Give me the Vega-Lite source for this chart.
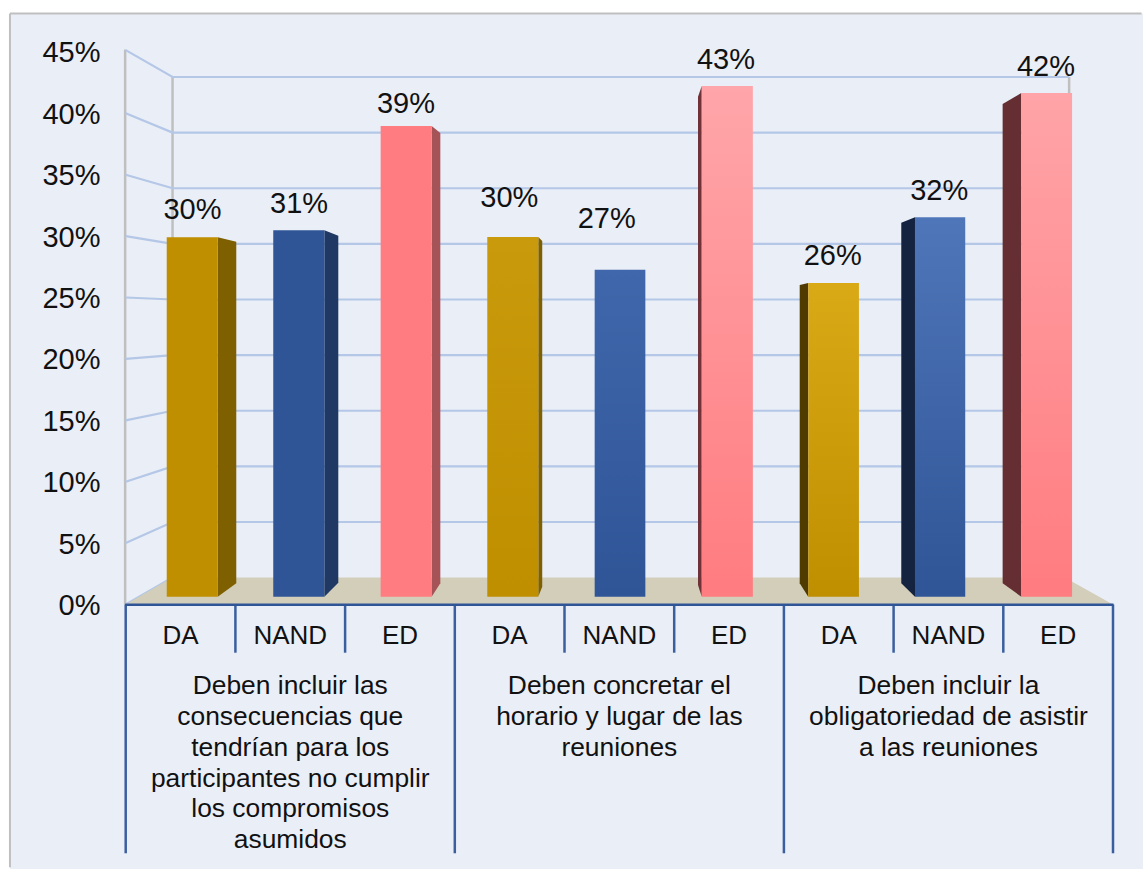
{
"$schema":"https://vega.github.io/schema/vega-lite/v6.json",
"width":1143,"height":869,"padding":0,
"autosize":{"type":"fit","contains":"padding"},
"background":"#ffffff",
"view":{"stroke":null},
"datasets":{
"bars":[
{"id":"g1-DA","opcion":"DA","etiqueta":"30%","u":0.374,"u2":0.839,"v":29.9,"base":0.635,"lu":0.609,"lv":32.2},
{"id":"g1-NAND","opcion":"NAND","etiqueta":"31%","u":1.345,"u2":1.811,"v":30.47,"base":0.635,"lu":1.58,"lv":32.7},
{"id":"g1-ED","opcion":"ED","etiqueta":"39%","u":2.324,"u2":2.789,"v":38.97,"base":0.635,"lu":2.555,"lv":40.84},
{"id":"g2-DA","opcion":"DA","etiqueta":"30%","u":3.296,"u2":3.761,"v":29.93,"base":0.635,"lu":3.497,"lv":33.18},
{"id":"g2-NAND","opcion":"NAND","etiqueta":"27%","u":4.275,"u2":4.737,"v":27.26,"base":0.635,"lu":4.385,"lv":31.47},
{"id":"g2-ED","opcion":"ED","etiqueta":"43%","u":5.251,"u2":5.717,"v":42.22,"base":0.635,"lu":5.472,"lv":44.42},
{"id":"g3-DA","opcion":"DA","etiqueta":"26%","u":6.222,"u2":6.684,"v":26.18,"base":0.635,"lu":6.445,"lv":28.46},
{"id":"g3-NAND","opcion":"NAND","etiqueta":"32%","u":7.195,"u2":7.653,"v":31.53,"base":0.635,"lu":7.416,"lv":33.75},
{"id":"g3-ED","opcion":"ED","etiqueta":"42%","u":8.164,"u2":8.627,"v":41.65,"base":0.635,"lu":8.389,"lv":43.85}
],
"sides":[
{"id":"g1-DA","u":0.839,"v":29.9,"b":0.635},{"id":"g1-DA","u":1.008,"v":29.54,"b":1.73},
{"id":"g1-NAND","u":1.811,"v":30.47,"b":0.635},{"id":"g1-NAND","u":1.938,"v":30.03,"b":1.78},
{"id":"g1-ED","u":2.789,"v":38.97,"b":0.635},{"id":"g1-ED","u":2.868,"v":38.4,"b":1.73},
{"id":"g2-DA","u":3.761,"v":29.93,"b":0.635},{"id":"g2-DA","u":3.797,"v":29.6,"b":1.45},
{"id":"g2-ED","u":5.217,"v":41.35,"b":1.59},{"id":"g2-ED","u":5.251,"v":42.22,"b":0.635},
{"id":"g3-DA","u":6.144,"v":26.02,"b":1.73},{"id":"g3-DA","u":6.222,"v":26.18,"b":0.635},
{"id":"g3-NAND","u":7.07,"v":31.09,"b":1.73},{"id":"g3-NAND","u":7.195,"v":31.53,"b":0.635},
{"id":"g3-ED","u":7.994,"v":40.76,"b":1.73},{"id":"g3-ED","u":8.164,"v":41.65,"b":0.635}
],
"grid":[
{"nivel":45,"u":0,"v":45.15},{"nivel":45,"u":0.427,"v":42.96},{"nivel":45,"u":8.6,"v":42.96},
{"nivel":40,"u":0,"v":40},{"nivel":40,"u":0.427,"v":38.43},{"nivel":40,"u":8.6,"v":38.43},
{"nivel":35,"u":0,"v":35},{"nivel":35,"u":0.427,"v":33.9},{"nivel":35,"u":8.6,"v":33.9},
{"nivel":30,"u":0,"v":30},{"nivel":30,"u":0.427,"v":29.37},{"nivel":30,"u":8.6,"v":29.37},
{"nivel":25,"u":0,"v":25},{"nivel":25,"u":0.427,"v":24.84},{"nivel":25,"u":8.6,"v":24.84},
{"nivel":20,"u":0,"v":20},{"nivel":20,"u":0.427,"v":20.31},{"nivel":20,"u":8.6,"v":20.31},
{"nivel":15,"u":0,"v":15},{"nivel":15,"u":0.427,"v":15.78},{"nivel":15,"u":8.6,"v":15.78},
{"nivel":10,"u":0,"v":10},{"nivel":10,"u":0.427,"v":11.25},{"nivel":10,"u":8.6,"v":11.25},
{"nivel":5,"u":0,"v":5},{"nivel":5,"u":0.427,"v":6.72},{"nivel":5,"u":8.6,"v":6.72},
{"nivel":0,"u":0,"v":0},{"nivel":0,"u":0.427,"v":2.2}
],
"walls":[
{"u":-0.005,"v":45.2,"v2":0},
{"u":0.427,"v":42.96,"v2":2.2},
{"u":8.6,"v":42.96,"v2":2.2}
],
"floor":[
{"u":0,"v":0,"b":0},{"u":0.427,"v":2.2,"b":0},{"u":8.56,"v":2.2,"b":0},{"u":9,"v":0,"b":0}
],
"ticks":[
{"u":0,"v":0,"v2":-20.26},{"u":1,"v":0,"v2":-3.925},{"u":2,"v":0,"v2":-3.925},
{"u":3,"v":0,"v2":-20.26},{"u":4,"v":0,"v2":-3.925},{"u":5,"v":0,"v2":-3.925},
{"u":6,"v":0,"v2":-20.26},{"u":7,"v":0,"v2":-3.925},{"u":8,"v":0,"v2":-3.925},
{"u":9,"v":0,"v2":-20.26}
],
"cats":[
{"t":"DA","u":0.5,"v":-2.54},{"t":"NAND","u":1.5,"v":-2.54},{"t":"ED","u":2.5,"v":-2.54},
{"t":"DA","u":3.5,"v":-2.54},{"t":"NAND","u":4.5,"v":-2.54},{"t":"ED","u":5.5,"v":-2.54},
{"t":"DA","u":6.5,"v":-2.54},{"t":"NAND","u":7.5,"v":-2.54},{"t":"ED","u":8.5,"v":-2.54}
],
"groups":[
{"t":"Deben incluir las\nconsecuencias que\ntendrían para los\nparticipantes no cumplir\nlos compromisos\nasumidos","u":1.5,"v":-5.74},
{"t":"Deben concretar el\nhorario y lugar de las\nreuniones","u":4.5,"v":-5.74},
{"t":"Deben incluir la\nobligatoriedad de asistir\na las reuniones","u":7.5,"v":-5.74}
]
},
"data":{"name":"bars"},
"encoding":{
"x":{"field":"u","type":"quantitative","axis":null,"scale":{"domain":[-1.1459,9.2735],"nice":false,"zero":false}},
"y":{"field":"v","type":"quantitative","stack":null,"title":null,"scale":{"domain":[-21.54,49.23],"nice":false,"zero":false},
"axis":{"values":[0,5,10,15,20,25,30,35,40,45],"format":".0f","labelExpr":"datum.value + '%'","domain":false,"ticks":false,"grid":false,"labelPadding":-100,"labelAlign":"right","labelFont":"Liberation Sans","labelFontSize":29,"labelColor":"#111111","title":null,"zindex":1,"labelOverlap":false,"labelOffset":1}}
},
"layer":[
{"data":{"values":[{"u":-1.055,"u2":9.2735,"v":48.13,"v2":-21.54}]},
 "mark":{"type":"rect","fill":"#EAEEF7"},
 "encoding":{"x2":{"field":"u2"},"y2":{"field":"v2"}}},
{"data":{"values":[{"u":-1.055,"v":48.13,"v2":-21.4}]},
 "mark":{"type":"rule","stroke":"#BFBFBF","strokeWidth":2},
 "encoding":{"y2":{"field":"v2"}}},
{"data":{"values":[{"u":-1.055,"u2":9.26,"v":48.13}]},
 "mark":{"type":"rule","stroke":"#BFBFBF","strokeWidth":2},
 "encoding":{"x2":{"field":"u2"}}},
{"data":{"name":"walls"},
 "mark":{"type":"rule","stroke":"#BFBFBF","strokeWidth":2.5},
 "encoding":{"y2":{"field":"v2"}}},
{"data":{"name":"grid"},
 "mark":{"type":"line","stroke":"#B4C7E7","strokeWidth":2.2},
 "encoding":{"detail":{"field":"nivel"}}},
{"data":{"name":"floor"},
 "mark":{"type":"area","orient":"vertical","fill":"#D3CEB9","line":false},
 "encoding":{"y2":{"field":"b"}}},
{"data":{"name":"sides"},
 "mark":{"type":"area","orient":"vertical"},
 "encoding":{"y2":{"field":"b"},"detail":{"field":"id"},
  "fill":{"field":"id","type":"nominal","legend":null,"scale":{
   "domain":["g1-DA","g1-NAND","g1-ED","g2-DA","g2-ED","g3-DA","g3-NAND","g3-ED"],
   "range":["#7F6000","#1F3864","#A65357","#7F6000","#6E3238","#4F3B00","#14233F","#642E33"]}}}},
{"mark":{"type":"rect"},
 "encoding":{"x2":{"field":"u2"},"y2":{"field":"base"},
  "color":{"condition":[
   {"test":"datum.id==='g1-NAND'","value":"#2F5597"},
   {"test":"datum.id==='g1-ED'","value":"#FF7C80"},
   {"test":"datum.id==='g2-DA'","value":{"gradient":"linear","x1":0,"y1":0,"x2":0,"y2":1,"stops":[{"offset":0,"color":"#C99A0B"},{"offset":1,"color":"#BF8F00"}]}},
   {"test":"datum.id==='g2-NAND'","value":{"gradient":"linear","x1":0,"y1":0,"x2":0,"y2":1,"stops":[{"offset":0,"color":"#4067AB"},{"offset":1,"color":"#2F5597"}]}},
   {"test":"datum.id==='g2-ED'","value":{"gradient":"linear","x1":0,"y1":0,"x2":0,"y2":1,"stops":[{"offset":0,"color":"#FFA6AA"},{"offset":1,"color":"#FF7C80"}]}},
   {"test":"datum.id==='g3-DA'","value":{"gradient":"linear","x1":0,"y1":0,"x2":0,"y2":1,"stops":[{"offset":0,"color":"#D9A916"},{"offset":1,"color":"#BF8F00"}]}},
   {"test":"datum.id==='g3-NAND'","value":{"gradient":"linear","x1":0,"y1":0,"x2":0,"y2":1,"stops":[{"offset":0,"color":"#4F76B8"},{"offset":1,"color":"#2F5597"}]}},
   {"test":"datum.id==='g3-ED'","value":{"gradient":"linear","x1":0,"y1":0,"x2":0,"y2":1,"stops":[{"offset":0,"color":"#FFA4A8"},{"offset":1,"color":"#FF7C80"}]}}
  ],"value":"#BF8F00"}}},
{"data":{"name":"ticks"},
 "mark":{"type":"rule","stroke":"#3A5F9F","strokeWidth":2.5},
 "encoding":{"y2":{"field":"v2"}}},
{"data":{"values":[{"u":-0.005,"u2":9.005,"v":-0.03}]},
 "mark":{"type":"rule","stroke":"#2F5597","strokeWidth":2.5},
 "encoding":{"x2":{"field":"u2"}}},
{"mark":{"type":"text","font":"Liberation Sans","fontSize":29,"fill":"#111111","align":"center","baseline":"middle","dy":1},
 "encoding":{"x":{"field":"lu","type":"quantitative"},"y":{"field":"lv","type":"quantitative"},"text":{"field":"etiqueta"}}},
{"data":{"name":"cats"},
 "mark":{"type":"text","font":"Liberation Sans","fontSize":26,"fill":"#111111","align":"center","baseline":"middle"},
 "encoding":{"text":{"field":"t"}}},
{"data":{"name":"groups"},
 "mark":{"type":"text","font":"Liberation Sans","fontSize":26.4,"fill":"#111111","align":"center","baseline":"top","lineBreak":"\n","lineHeight":30.7,"dy":-1.5},
 "encoding":{"text":{"field":"t"}}}
]
}
